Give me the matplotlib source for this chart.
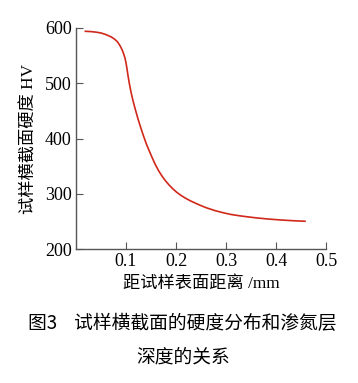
import matplotlib.pyplot as plt

depth = [0.0187, 0.03, 0.04, 0.05, 0.06, 0.07, 0.077, 0.083, 0.088, 0.092,
         0.095, 0.098, 0.100, 0.102, 0.104, 0.107, 0.110, 0.114, 0.117, 0.121,
         0.125, 0.129, 0.133, 0.137, 0.141, 0.147, 0.153, 0.158, 0.165, 0.172,
         0.178, 0.186, 0.193, 0.201, 0.21, 0.219, 0.228, 0.24, 0.25, 0.261,
         0.278, 0.295, 0.31, 0.328, 0.345, 0.361, 0.378, 0.395, 0.41, 0.428,
         0.443, 0.458]
hardness = [594, 593.5, 592.5, 591, 588, 584, 580, 575, 568, 561,
            554, 545.5, 537, 526, 514, 498, 484, 468.5, 458, 445,
            432.5, 421, 410, 399.5, 389.5, 376.5, 364, 354, 342, 332,
            324.5, 316, 309.5, 303, 297, 292, 287.5, 282.5, 278.5, 274.5,
            269.5, 265.5, 262.5, 260, 258, 256.3, 254.8, 253.5, 252.5, 251.5,
            250.8, 250.2]
xticks = [0.1, 0.2, 0.3, 0.4, 0.5]
yticks = [200, 300, 400, 500, 600]

serif = ['Liberation Serif', 'Noto Sans CJK SC']
cjk = ['Noto Sans CJK SC', 'DejaVu Sans']

fig = plt.figure(figsize=(3.58, 3.83), dpi=100)
ax = fig.add_axes([76/358, 1 - 249/383, 250/358, 221/383])

ax.plot(depth, hardness, color='#d0281a', lw=1.2)
ax.set_xlim(0, 0.5)
ax.set_ylim(200, 600)
ax.set_xticks(xticks)
ax.set_xticklabels([str(v) for v in xticks], family='Liberation Serif')
ax.set_yticks(yticks)
ax.set_yticklabels([str(v) for v in yticks], family='Liberation Serif')
for s in ['top', 'right']:
    ax.spines[s].set_visible(False)
for s in ['left', 'bottom']:
    ax.spines[s].set_color('#555555')
    ax.spines[s].set_linewidth(1.0)
ax.tick_params(direction='in', length=5, color='#555555', labelsize=13, pad=3)

ax.set_ylabel('试样横截面硬度 HV', fontsize=12.4, family=serif, labelpad=5)
ax.set_xlabel('距试样表面距离 /mm', fontsize=12.4, family=serif, labelpad=4)

fig.text(182/358, 1 - 323/383, '图3    试样横截面的硬度分布和渗氮层', ha='center', va='center',
         fontsize=13.5, family=cjk)
fig.text(183/358, 1 - 357/383, '深度的关系', ha='center', va='center',
         fontsize=13.5, family=cjk)

fig.savefig('out.png', dpi=100)
